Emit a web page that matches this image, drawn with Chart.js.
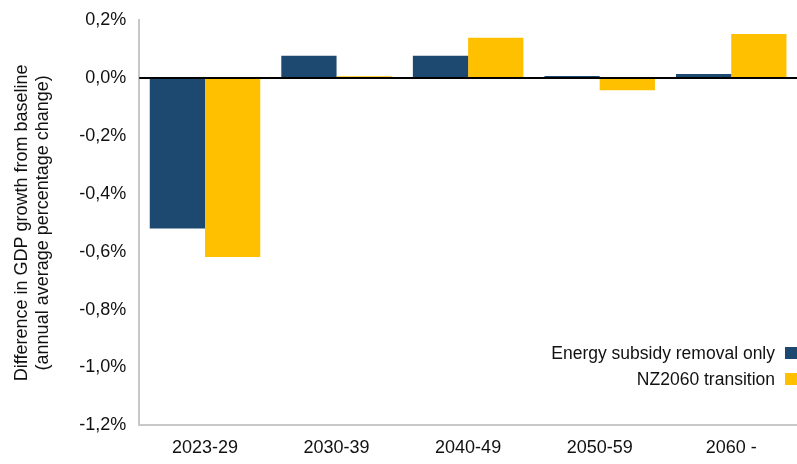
<!DOCTYPE html>
<html>
<head>
<meta charset="utf-8">
<script src="https://cdn.jsdelivr.net/npm/chart.js@4"></script>
<style>
    html, body { margin: 0; padding: 0; background: #fff; }
    #wrap { position: relative; width: 797px; height: 464px; }
    #legend { position: absolute; right: 0; top: 340px; font-family: "Liberation Sans", Arial, sans-serif; font-size: 17.5px; color: #111; }
    #legend div { display: flex; justify-content: flex-end; align-items: center; height: 26px; }
    #legend span.box { display: inline-block; width: 12px; height: 12px; margin-left: 10px; }
</style>
</head>
<body>
<div id="wrap">
    <canvas id="gdpChart" width="797" height="464"></canvas>
    <div id="legend"></div>
</div>
<script>
const categories = ['2023-29', '2030-39', '2040-49', '2050-59', '2060 -'];
const subsidyOnly = [-0.52, 0.077, 0.077, 0.007, 0.014];
const nz2060 = [-0.618, 0.006, 0.139, -0.042, 0.152];
const seriesNames = ['Energy subsidy removal only', 'NZ2060 transition'];
const seriesColors = ['#1d4971', '#ffc000'];

const fmt = v => (Math.round(v * 10) / 10).toFixed(1).replace('-0.0', '0.0').replace('.', ',') + '%';

// zero line on top of the bars
const zeroLine = {
    id: 'zeroLine',
    afterDatasetsDraw(chart) {
        const { ctx, chartArea, scales } = chart;
        const y = scales.y.getPixelForValue(0);
        ctx.save();
        ctx.strokeStyle = '#000';
        ctx.lineWidth = 2;
        ctx.beginPath();
        ctx.moveTo(chartArea.left, y);
        ctx.lineTo(chartArea.right, y);
        ctx.stroke();
        ctx.restore();
    }
};

const ctx = document.getElementById('gdpChart').getContext('2d');
new Chart(ctx, {
    type: 'bar',
    data: {
        labels: categories,
        datasets: [
            { label: seriesNames[0], data: subsidyOnly, backgroundColor: seriesColors[0] },
            { label: seriesNames[1], data: nz2060, backgroundColor: seriesColors[1] }
        ]
    },
    options: {
        responsive: false,
        animation: false,
        layout: { padding: { top: 2, right: 0, left: 11, bottom: -7 } },
        datasets: { bar: { categoryPercentage: 0.84, barPercentage: 1.0 } },
        plugins: {
            legend: { display: false },
            tooltip: { enabled: false }
        },
        scales: {
            x: {
                grid: { display: false, drawTicks: false },
                border: { color: '#c8c8c8', width: 2 },
                ticks: { color: '#111', font: { family: 'Liberation Sans', size: 18 }, padding: 12 }
            },
            y: {
                min: -1.2,
                max: 0.2,
                grid: { display: false, drawTicks: false },
                border: { color: '#c8c8c8', width: 2 },
                ticks: {
                    stepSize: 0.2,
                    color: '#111',
                    font: { family: 'Liberation Sans', size: 18, lineHeight: 0.8 },
                    padding: 13,
                    callback: v => fmt(v)
                },
                title: {
                    display: true,
                    text: ['Difference in GDP growth from baseline', '(annual average percentage change)'],
                    color: '#111',
                    font: { family: 'Liberation Sans', size: 18, lineHeight: 1.2 },
                    padding: { top: 0, bottom: 12 }
                }
            }
        }
    },
    plugins: [zeroLine]
});

const legend = document.getElementById('legend');
seriesNames.forEach((name, i) => {
    const row = document.createElement('div');
    row.innerHTML = `<span>${name}</span><span class="box" style="background:${seriesColors[i]}"></span>`;
    legend.appendChild(row);
});
</script>
</body>
</html>
